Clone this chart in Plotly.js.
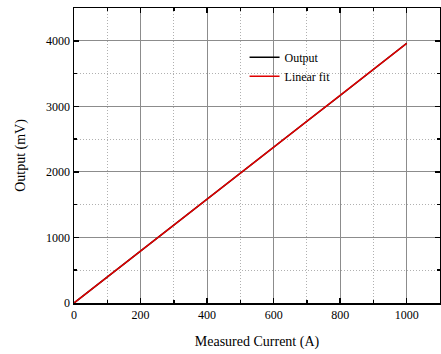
<!DOCTYPE html>
<html><head><meta charset="utf-8">
<script src="https://cdn.plot.ly/plotly-3.0.1.min.js"></script>
<style>html,body{margin:0;padding:0;background:#fff}</style>
</head><body><div id="chart" style="width:441px;height:354px"></div>
<script>
const current = [0, 100, 200, 300, 400, 500, 600, 700, 800, 900, 1000];
const output = [0, 398, 795, 1190, 1585, 1982, 2378, 2772, 3165, 3565, 3962];
const fitOutput = [0, 396, 792, 1188, 1584, 1980, 2376, 2772, 3168, 3564, 3960];
const xTicks = [0, 200, 400, 600, 800, 1000];
const yTicks = [0, 1000, 2000, 3000, 4000];

const font = {family: 'Liberation Serif, Times New Roman, serif', color: '#000'};
const axisCommon = {
  showline: true, linecolor: '#000', linewidth: 1.5, mirror: 'ticks',
  ticks: 'inside', ticklen: 5, tickwidth: 1.5, tickcolor: '#000',
  showgrid: true, gridcolor: '#8c8c8c', gridwidth: 1,
  zeroline: false, tickfont: {family: font.family, size: 12, color: '#000'},
  minor: {ticks: 'inside', ticklen: 3, tickcolor: '#000', showgrid: true, gridcolor: '#b0b0b0', griddash: '1px,2px', gridwidth: 1}
};
const data = [
  {x: current, y: output, mode: 'lines', name: 'Output', line: {color: '#000', width: 1.5}},
  {x: current, y: fitOutput, mode: 'lines', name: 'Linear fit', line: {color: '#e00000', width: 1.5}}
];
const layout = {
  width: 441, height: 354,
  margin: {l: 74, r: 1, t: 8, b: 51},
  paper_bgcolor: '#fff', plot_bgcolor: '#fff',
  font: font,
  showlegend: true,
  legend: {x: 0.466, y: 0.882, xanchor: 'left', yanchor: 'top', bgcolor: 'rgba(0,0,0,0)',
    font: {family: font.family, size: 12, color: '#000'}, tracegroupgap: 0, itemwidth: 30},
  xaxis: Object.assign({}, axisCommon, {
    range: [0, 1100], tickvals: xTicks, ticktext: xTicks.map(String),
    minor: Object.assign({}, axisCommon.minor, {dtick: 100, tick0: 0}),
    title: {text: 'Measured Current (A)', font: {family: font.family, size: 14, color: '#000'}, standoff: 15}
  }),
  yaxis: Object.assign({}, axisCommon, {
    range: [0, 4500], tickvals: yTicks, ticktext: yTicks.map(String),
    minor: Object.assign({}, axisCommon.minor, {dtick: 500, tick0: 0}),
    title: {text: 'Output (mV)', font: {family: font.family, size: 14, color: '#000'}, standoff: 17}
  })
};
Plotly.newPlot('chart', data, layout, {displayModeBar: false, staticPlot: true});
</script></body></html>
